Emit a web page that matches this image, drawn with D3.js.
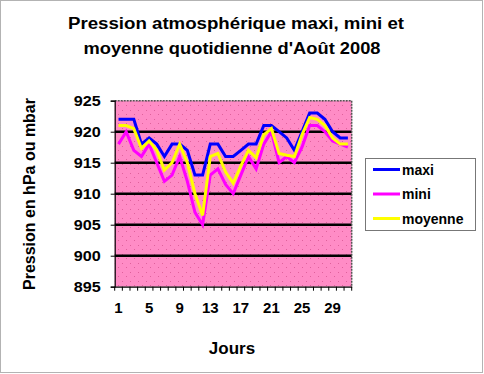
<!DOCTYPE html>
<html><head><meta charset="utf-8">
<script src="https://cdn.jsdelivr.net/npm/d3@7"></script>
<style>
html,body{margin:0;padding:0;background:#fff;}
svg{display:block;font-family:"Liberation Sans",Arial,sans-serif;}
</style></head><body>
<svg id="c" width="484" height="374"></svg>
<script>
const days = d3.range(1, 32);
const maxi = [922,922,922,918,919,918,916,918,918,917,913,913,918,918,916,916,917,918,918,921,921,920,919,917,920,923,923,922,920,919,919];
const mini = [918,920,917,916,918,915,912,913,916,912,907,905,913,914,911.5,910,913,916,914,918,920,915,916,915,917.5,921,921,920,918.5,918,917.5];
const moyenne = [921,921,920.5,917.3,918.5,917,913.8,915,918,915,910,906.5,916,916.5,913.5,911.7,914.5,917,915.8,919.5,920.5,916.5,916.2,916,919.5,922.3,922,921,919,918,918];
const yTicks = [895,900,905,910,915,920,925];
const xTickLabels = [1,5,9,13,17,21,25,29];
const seriesNames = ["maxi","mini","moyenne"];
const seriesColors = ["#0000ff","#ff00ff","#ffff00"];
const seriesData = [maxi, mini, moyenne];

const svg = d3.select("#c");
const W = 484, H = 374;
const L = 114.7, R = 351.7, T = 100.7, B = 286.7;

// outer dotted border
svg.append("rect").attr("x",0.5).attr("y",0.5).attr("width",W-2).attr("height",H-2)
  .attr("fill","#fff").attr("stroke","#666").attr("stroke-dasharray","1,1");

const defs = svg.append("defs");
const pat = defs.append("pattern").attr("id","dots").attr("patternUnits","userSpaceOnUse")
  .attr("width",8).attr("height",9);
pat.append("rect").attr("width",8).attr("height",9).attr("fill","#ff8cc6");
pat.append("rect").attr("x",2).attr("y",2).attr("width",1).attr("height",1).attr("fill","#e0609c");
pat.append("rect").attr("x",6).attr("y",6).attr("width",1).attr("height",1).attr("fill","#e0609c");

const x = d3.scaleBand().domain(days).range([L, R]);
const y = d3.scaleLinear().domain([895, 925]).range([B, T]);
const cx = d => x(d) + x.bandwidth()/2;

// plot area
svg.append("rect").attr("x",L).attr("y",T).attr("width",R-L).attr("height",B-T)
  .attr("fill","url(#dots)");

// gridlines
svg.append("g").selectAll("line").data(yTicks.filter(v => v>895 && v<925)).join("line")
  .attr("x1",L).attr("x2",R).attr("y1",d=>y(d)).attr("y2",d=>y(d))
  .attr("stroke","#000").attr("stroke-width",2.5);

// plot top/right border dotted
svg.append("path").attr("d",`M${L},${T}H${R}V${B}`).attr("fill","none")
  .attr("stroke","#555").attr("stroke-width",1.5).attr("stroke-dasharray","2,1");

// y axis
const yAxis = svg.append("g").attr("transform",`translate(${L},0)`)
  .call(d3.axisLeft(y).tickValues(yTicks).tickSize(4).tickFormat(d3.format("d")));
yAxis.select(".domain").attr("stroke","#000").attr("stroke-width",1.2);
yAxis.selectAll(".tick line").attr("stroke","#000");
yAxis.selectAll("text").attr("font-size",15).attr("font-weight","bold").attr("fill","#000")
  .attr("x",-14).attr("textLength",27).attr("lengthAdjust","spacingAndGlyphs");

// x axis
const xAxis = svg.append("g").attr("transform",`translate(0,${B})`)
  .call(d3.axisBottom(x).tickSize(0).tickValues(xTickLabels));
xAxis.select(".domain").attr("stroke","#000").attr("stroke-width",1.2);
xAxis.selectAll("text").attr("font-size",15).attr("font-weight","bold").attr("fill","#000")
  .attr("dy","1.55em");
// category boundary ticks
svg.append("g").selectAll("line").data(days.concat([32])).join("line")
  .attr("x1",d => d<=31 ? x(d) : R).attr("x2",d => d<=31 ? x(d) : R)
  .attr("y1",B).attr("y2",B+4).attr("stroke","#000").attr("stroke-width",1);

// lines
const line = d3.line().x((v,i)=>cx(days[i])).y(v=>y(v));
seriesData.forEach((s,i)=>{
  svg.append("path").datum(s).attr("d",line).attr("fill","none")
    .attr("stroke",seriesColors[i]).attr("stroke-width",3).attr("stroke-linejoin","miter");
});

// title
const tAttrs = (t) => t.attr("text-anchor","middle").attr("font-size",16)
  .attr("font-weight","bold").attr("fill","#000").attr("lengthAdjust","spacingAndGlyphs");
svg.append("text").call(tAttrs).attr("x",236).attr("y",29).attr("textLength",336)
  .text("Pression atmosphérique maxi, mini et");
svg.append("text").call(tAttrs).attr("x",232).attr("y",54).attr("textLength",297)
  .text("moyenne quotidienne d'Août 2008");

// axis titles
svg.append("text").attr("x",232).attr("y",354).attr("text-anchor","middle")
  .attr("font-size",17).attr("font-weight","bold").text("Jours");
svg.append("text").attr("transform","translate(35,194) rotate(-90)").attr("text-anchor","middle")
  .attr("font-size",16).attr("font-weight","bold")
  .attr("textLength",192).attr("lengthAdjust","spacingAndGlyphs").text("Pression en hPa ou mbar");

// legend
const lg = svg.append("g");
lg.append("rect").attr("x",365.5).attr("y",158.5).attr("width",110).attr("height",72)
  .attr("fill","#fff").attr("stroke","#777").attr("stroke-width",1);
seriesNames.forEach((n,i)=>{
  const yy = 169.5 + i*24.5;
  lg.append("line").attr("x1",373).attr("x2",400).attr("y1",yy).attr("y2",yy)
    .attr("stroke",seriesColors[i]).attr("stroke-width",3);
  lg.append("text").attr("x",402).attr("y",yy+5).attr("font-size",14).attr("font-weight","bold").text(n);
});
</script></body></html>
